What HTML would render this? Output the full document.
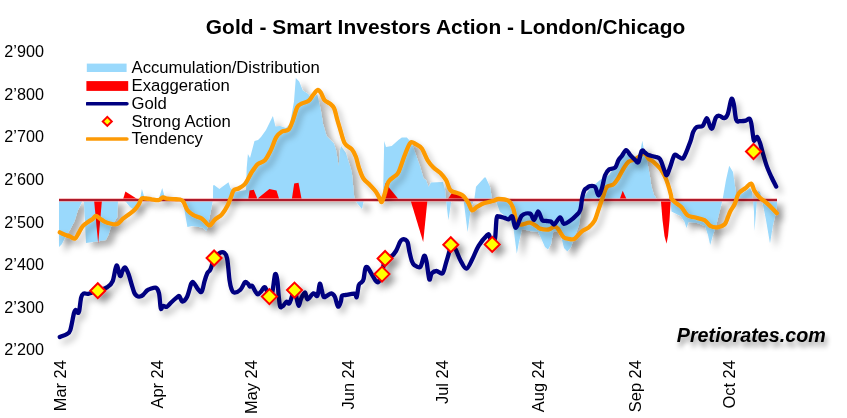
<!DOCTYPE html>
<html><head><meta charset="utf-8"><style>
html,body{margin:0;padding:0;background:#fff;}
svg{display:block;}
text{font-family:"Liberation Sans", sans-serif;}
</style></head><body>
<svg width="847" height="418" viewBox="0 0 847 418">
<defs>
<filter id="sh" x="-10%" y="-10%" width="130%" height="140%">
<feGaussianBlur in="SourceAlpha" stdDeviation="3.2"/>
<feOffset dx="5.5" dy="5" result="b"/>
<feFlood flood-color="#000" flood-opacity="0.32"/>
<feComposite in2="b" operator="in"/>
<feMerge><feMergeNode/><feMergeNode in="SourceGraphic"/></feMerge>
</filter>
<filter id="lsh" x="-10%" y="-10%" width="130%" height="140%">
<feGaussianBlur in="SourceAlpha" stdDeviation="3"/>
<feOffset dx="4" dy="4.5" result="b"/>
<feFlood flood-color="#000" flood-opacity="0.24"/>
<feComposite in2="b" operator="in"/>
<feMerge><feMergeNode/><feMergeNode in="SourceGraphic"/></feMerge>
</filter>
<filter id="tsh" x="-10%" y="-30%" width="130%" height="180%">
<feGaussianBlur in="SourceAlpha" stdDeviation="2.4"/>
<feOffset dx="1.5" dy="5" result="b"/>
<feFlood flood-color="#000" flood-opacity="0.4"/>
<feComposite in2="b" operator="in"/>
<feMerge><feMergeNode/><feMergeNode in="SourceGraphic"/></feMerge>
</filter>
<filter id="nf" x="0" y="0" width="100%" height="100%"><feOffset dx="0" dy="0"/></filter>
</defs>
<rect width="847" height="418" fill="#fff"/>
<g filter="url(#nf)">
<text x="205.8" y="33.6" font-size="20.9" font-weight="bold" fill="#000" textLength="479.5" lengthAdjust="spacing">Gold - Smart Investors Action - London/Chicago</text>
<g font-size="16.2" fill="#000"><text x="43.9" y="57.3" text-anchor="end">2’900</text><text x="43.9" y="99.9" text-anchor="end">2’800</text><text x="43.9" y="142.4" text-anchor="end">2’700</text><text x="43.9" y="185.0" text-anchor="end">2’600</text><text x="43.9" y="227.6" text-anchor="end">2’500</text><text x="43.9" y="270.1" text-anchor="end">2’400</text><text x="43.9" y="312.7" text-anchor="end">2’300</text><text x="43.9" y="355.3" text-anchor="end">2’200</text></g>
<g font-size="16.4" fill="#000"><text transform="translate(66.1,360.2) rotate(-90)" text-anchor="end">Mar 24</text><text transform="translate(163.0,360.2) rotate(-90)" text-anchor="end">Apr 24</text><text transform="translate(256.8,360.2) rotate(-90)" text-anchor="end">May 24</text><text transform="translate(353.7,360.2) rotate(-90)" text-anchor="end">Jun 24</text><text transform="translate(447.5,360.2) rotate(-90)" text-anchor="end">Jul 24</text><text transform="translate(544.4,360.2) rotate(-90)" text-anchor="end">Aug 24</text><text transform="translate(641.3,360.2) rotate(-90)" text-anchor="end">Sep 24</text><text transform="translate(735.1,360.2) rotate(-90)" text-anchor="end">Oct 24</text></g>
</g>
<g filter="url(#sh)"><polygon points="59.0,199.5 59.0,247.0 62.0,244.0 65.8,236.0 70.1,229.5 74.4,221.6 78.0,210.0 80.8,204.3 82.3,201.0 84.0,202.0 86.0,243.0 100.0,241.0 105.7,240.0 108.6,234.5 110.8,227.3 117.2,217.3 118.0,201.0 122.0,199.5 126.0,202.0 130.0,207.0 134.0,210.0 138.0,205.0 139.5,199.5 140.0,199.5 141.9,189.0 145.0,199.5 158.5,199.5 162.2,188.0 165.5,199.5 182.6,199.5 187.4,227.0 192.0,226.0 202.7,227.4 206.6,231.0 210.0,215.0 213.0,199.5 213.1,185.5 214.1,185.1 219.4,189.0 222.0,187.0 228.5,182.2 230.4,188.0 235.0,192.0 246.0,190.0 246.7,168.0 247.9,154.0 250.0,158.0 254.5,141.0 258.0,140.0 261.0,137.0 266.0,130.0 272.9,116.0 275.5,126.6 280.0,126.0 286.0,128.0 290.0,124.0 294.0,101.6 295.8,78.0 299.2,81.5 302.8,90.5 308.2,94.1 311.8,99.5 317.2,94.1 320.8,110.0 323.1,124.3 326.7,136.3 333.9,143.5 336.0,150.0 338.7,166.2 340.0,150.0 341.1,145.9 345.9,153.0 351.8,172.2 354.2,196.9 355.0,199.5 357.0,203.0 362.0,209.0 364.0,199.5 383.0,199.5 384.2,141.0 386.0,147.0 391.7,146.0 398.4,140.0 401.8,137.5 406.8,137.5 410.0,141.0 412.7,146.0 416.0,155.0 420.2,167.0 423.6,178.6 426.0,180.0 428.6,187.0 431.0,182.5 443.0,182.0 445.0,190.0 446.0,199.5 448.4,220.3 451.5,199.5 463.5,199.5 467.6,232.0 471.0,207.0 474.3,199.5 476.0,186.8 484.4,177.5 485.7,177.5 490.0,186.8 492.0,199.5 496.0,201.0 500.0,212.0 510.0,220.0 513.5,228.0 515.0,240.0 516.8,253.8 519.0,242.0 522.0,229.0 530.0,231.0 538.0,232.0 541.0,238.0 545.0,247.0 548.0,249.4 551.0,244.0 553.4,231.0 558.0,232.0 561.5,238.0 564.0,248.0 567.4,251.6 571.0,247.0 575.0,236.0 579.0,225.0 581.0,212.0 582.0,199.5 589.4,189.2 600.0,180.0 609.1,174.9 619.9,158.7 627.0,153.3 634.2,156.9 639.6,155.1 642.3,140.8 645.0,155.0 647.5,163.0 650.0,177.0 651.5,187.0 654.0,195.0 657.0,199.5 670.2,199.5 671.5,211.5 680.5,216.0 684.4,221.6 686.5,228.0 688.5,222.0 697.3,223.0 705.0,226.0 708.0,235.0 710.2,245.0 713.0,235.0 716.0,226.0 718.8,214.4 721.5,204.0 722.6,199.5 726.0,180.0 729.2,165.8 733.0,172.0 735.5,190.0 737.0,199.5 740.0,195.0 750.0,188.0 752.0,192.0 753.0,199.5 754.0,212.0 754.5,231.0 756.0,212.0 757.0,199.5 758.0,191.0 760.0,192.0 762.0,199.5 763.0,205.0 766.0,220.0 770.0,243.4 773.0,225.0 776.0,212.0 777.0,205.0 777.0,199.5" fill="#9AD9FC"/></g>
<g fill="#FF0000"><polygon points="94.0,199.5 98.2,243.6 102.0,199.5"/><polygon points="123.0,199.5 125.4,191.5 138.0,199.5"/><polygon points="248.2,199.5 249.6,190.5 253.8,189.8 256.7,196.9 257.4,199.5 258.8,197.6 269.4,189.1 276.5,190.5 279.3,199.5"/><polygon points="291.8,199.5 294.2,183.5 298.5,182.8 301.7,199.5"/><polygon points="383.0,199.5 385.3,183.1 398.8,199.5"/><polygon points="410.3,199.5 423.2,241.9 427.5,199.5"/><polygon points="447.6,199.5 451.9,193.1 463.4,196.0 466.2,199.5"/><polygon points="619.6,199.5 622.7,190.7 626.7,199.5"/><polygon points="660.8,199.5 662.5,220.0 664.5,236.0 666.5,243.8 668.0,236.0 669.5,220.0 670.8,199.5"/></g>
<line x1="59" y1="200" x2="777" y2="200" stroke="#F49A9A" stroke-width="3.6" opacity="0.8"/><line x1="59" y1="200" x2="777" y2="200" stroke="#AE1A2A" stroke-width="2.1"/>
<g filter="url(#lsh)"><path d="M59.8,232.3 C60.5,232.7 62.6,233.8 64.3,234.5 C66.0,235.2 68.3,235.9 70.1,236.6 C71.9,237.3 73.7,239.1 75.1,238.5 C76.5,237.9 77.4,235.1 78.7,233.0 C80.0,230.9 81.3,227.8 83.0,225.9 C84.7,224.0 87.0,222.8 88.7,221.6 C90.4,220.4 91.8,219.6 93.0,218.7 C94.2,217.8 94.7,216.0 95.9,216.0 C97.1,216.0 98.8,217.8 100.2,218.7 C101.6,219.6 102.9,220.8 104.5,221.6 C106.1,222.4 107.9,223.1 110.0,223.5 C112.1,223.9 115.0,224.8 117.2,224.0 C119.4,223.2 121.1,220.3 123.0,218.7 C124.9,217.1 126.8,215.8 128.7,214.4 C130.6,213.0 132.7,211.8 134.4,210.1 C136.1,208.4 137.5,206.3 138.7,204.4 C139.9,202.5 140.4,199.7 141.6,198.7 C142.8,197.7 144.2,198.4 145.9,198.5 C147.6,198.6 149.5,199.0 151.6,199.3 C153.7,199.6 156.7,200.4 158.6,200.1 C160.5,199.8 161.5,197.5 162.9,197.3 C164.3,197.1 165.3,198.4 167.2,198.7 C169.0,199.0 171.9,199.1 174.0,199.2 C176.1,199.3 178.4,199.1 180.0,199.5 C181.6,199.9 182.2,200.0 183.4,201.8 C184.7,203.6 185.8,208.0 187.5,210.2 C189.2,212.4 191.0,213.8 193.4,215.2 C195.8,216.6 199.6,217.2 201.8,218.6 C204.0,220.0 205.4,222.5 206.8,223.6 C208.2,224.7 208.8,226.0 210.2,225.3 C211.6,224.6 213.2,221.2 215.2,219.4 C217.1,217.6 219.8,216.8 221.9,214.4 C224.0,212.0 226.2,208.1 227.7,205.2 C229.2,202.3 230.1,199.3 231.1,196.8 C232.1,194.3 232.5,191.8 233.7,190.4 C234.9,189.0 236.7,189.5 238.5,188.5 C240.3,187.5 243.0,185.9 244.5,184.5 C246.0,183.1 246.4,181.9 247.5,180.0 C248.6,178.1 249.9,175.1 251.2,173.0 C252.4,170.9 253.9,169.0 255.0,167.5 C256.1,166.0 256.4,165.2 258.0,164.0 C259.6,162.8 262.8,162.4 264.9,160.2 C267.0,158.0 268.7,154.4 270.6,150.6 C272.5,146.8 274.4,140.4 276.3,137.2 C278.2,134.0 280.1,132.8 282.1,131.5 C284.2,130.2 286.8,131.5 288.6,129.6 C290.4,127.7 291.5,123.9 292.9,120.2 C294.3,116.5 295.8,110.0 297.2,107.3 C298.6,104.5 299.7,104.8 301.6,103.7 C303.5,102.6 306.8,102.2 308.7,100.8 C310.6,99.4 311.5,96.9 313.0,95.1 C314.5,93.3 316.3,90.4 317.6,90.0 C318.9,89.6 319.9,91.2 321.0,92.9 C322.1,94.6 323.0,98.3 324.5,100.1 C326.0,101.9 328.4,102.3 330.0,103.7 C331.6,105.1 332.9,105.7 334.1,108.2 C335.3,110.7 336.0,115.3 337.0,118.7 C338.0,122.1 338.6,124.2 339.9,128.3 C341.2,132.4 342.7,139.8 344.7,143.3 C346.7,146.8 349.8,147.0 351.7,149.2 C353.6,151.4 354.6,153.5 355.9,156.7 C357.1,159.9 357.9,164.8 359.2,168.4 C360.4,172.0 361.6,175.7 363.4,178.5 C365.2,181.3 368.0,183.0 370.1,185.2 C372.2,187.4 374.2,189.4 375.9,191.8 C377.6,194.2 379.1,197.7 380.1,199.4 C381.1,201.1 381.1,202.6 381.8,201.9 C382.5,201.2 383.2,198.5 384.3,195.2 C385.4,191.8 386.7,185.0 388.5,181.8 C390.3,178.6 393.3,177.7 395.0,176.0 C396.7,174.3 397.2,175.0 398.8,171.6 C400.4,168.2 402.6,160.6 404.5,155.8 C406.4,151.0 408.4,144.8 410.3,142.9 C412.2,141.0 414.1,143.4 416.0,144.3 C417.9,145.2 419.9,146.0 421.8,148.6 C423.7,151.2 425.6,157.0 427.5,160.1 C429.4,163.2 431.1,165.2 433.2,167.3 C435.3,169.5 438.2,170.8 440.4,173.0 C442.5,175.2 444.4,177.3 446.1,180.2 C447.8,183.1 448.5,188.0 450.4,190.2 C452.3,192.3 455.4,192.1 457.6,193.1 C459.8,194.1 461.6,194.3 463.4,196.0 C465.2,197.7 467.1,200.8 468.5,203.2 C469.9,205.6 470.6,209.7 472.0,210.3 C473.4,210.9 475.1,207.9 477.2,206.7 C479.3,205.5 481.6,204.1 484.4,203.1 C487.2,202.1 491.5,201.4 493.9,200.7 C496.3,200.0 496.3,198.8 498.7,198.8 C501.1,198.8 505.9,199.2 508.3,200.7 C510.7,202.2 511.7,204.3 513.1,207.9 C514.5,211.5 515.3,219.4 516.7,222.2 C518.1,225.0 519.2,224.5 521.4,224.6 C523.6,224.7 527.2,222.4 529.8,222.7 C532.4,223.0 535.3,225.5 537.0,226.5 C538.7,227.5 538.1,228.2 540.0,228.7 C541.9,229.2 546.2,229.8 548.6,229.5 C551.0,229.2 552.8,226.7 554.3,226.6 C555.8,226.5 556.3,226.9 557.9,228.7 C559.5,230.5 561.9,235.6 563.7,237.3 C565.5,239.0 566.9,238.6 568.7,238.8 C570.5,239.1 572.2,240.0 574.4,238.8 C576.5,237.6 579.2,233.5 581.6,231.6 C584.0,229.7 586.6,229.1 588.8,227.3 C590.9,225.5 592.8,223.9 594.5,220.8 C596.2,217.7 597.3,212.9 598.8,208.7 C600.3,204.4 602.2,198.9 603.5,195.3 C604.8,191.7 605.1,188.7 606.8,186.9 C608.5,185.1 611.5,185.9 613.5,184.4 C615.5,182.9 616.8,180.3 618.5,177.7 C620.2,175.0 621.9,171.2 623.6,168.5 C625.3,165.8 626.7,163.3 628.6,161.8 C630.5,160.3 633.4,160.3 635.3,159.3 C637.2,158.3 638.5,157.0 640.0,155.9 C641.5,154.8 642.8,152.2 644.2,152.6 C645.6,153.0 646.9,157.0 648.4,158.5 C649.9,160.0 651.4,160.1 653.4,161.8 C655.4,163.5 658.3,166.3 660.1,168.5 C661.9,170.7 663.0,172.7 664.3,175.2 C665.6,177.7 666.6,180.2 667.7,183.6 C668.8,186.9 670.4,192.8 671.0,195.3 C671.6,197.8 670.7,197.3 671.5,198.6 C672.3,199.9 674.1,201.5 675.8,202.9 C677.5,204.3 679.6,205.2 681.5,207.2 C683.4,209.2 685.1,213.4 687.3,215.1 C689.4,216.8 691.5,216.5 694.4,217.3 C697.3,218.1 701.9,218.7 704.5,220.1 C707.1,221.5 708.1,224.7 710.2,225.9 C712.4,227.1 715.0,227.6 717.4,227.3 C719.8,227.1 722.8,226.1 724.6,224.4 C726.4,222.7 727.0,219.2 728.0,217.0 C729.0,214.8 729.4,213.2 730.5,211.0 C731.6,208.8 733.3,206.9 734.7,204.0 C736.1,201.1 736.9,196.0 738.7,193.4 C740.5,190.8 743.2,189.8 745.3,188.2 C747.4,186.6 749.6,183.3 751.1,183.7 C752.6,184.1 753.1,188.5 754.5,190.8 C755.9,193.1 757.5,195.2 759.7,197.4 C761.9,199.6 764.8,201.3 767.6,203.9 C770.5,206.5 775.3,211.6 776.8,213.2" fill="none" stroke="#FD9A06" stroke-width="4.3" stroke-linejoin="round" stroke-linecap="round"/></g>
<g filter="url(#lsh)"><path d="M59.8,337.0 C60.9,336.5 65.0,335.3 66.7,334.2 C68.5,333.1 69.1,333.6 70.3,330.1 C71.5,326.6 73.0,316.8 73.9,313.4 C74.8,310.0 75.2,309.9 75.8,309.8 C76.4,309.7 76.9,312.5 77.5,312.7 C78.1,312.9 78.6,313.5 79.2,311.0 C79.8,308.5 80.4,300.7 81.1,297.8 C81.8,294.9 82.3,294.2 83.5,293.5 C84.7,292.8 85.9,294.3 88.3,293.8 C90.7,293.3 94.6,291.8 97.8,290.7 C101.0,289.6 104.9,288.7 107.4,287.1 C109.9,285.5 111.2,284.7 112.7,281.1 C114.2,277.5 115.3,266.4 116.5,265.5 C117.7,264.6 119.1,275.1 120.1,276.0 C121.1,276.9 121.7,272.4 122.5,271.0 C123.3,269.6 124.1,267.0 125.1,267.5 C126.1,268.0 127.4,271.2 128.5,274.0 C129.6,276.8 130.5,280.8 131.5,284.0 C132.5,287.2 133.5,291.0 134.4,293.0 C135.3,295.0 136.1,295.4 137.0,296.0 C137.9,296.6 139.0,296.7 140.0,296.5 C141.0,296.3 141.8,296.0 143.0,295.0 C144.2,294.0 145.8,291.5 147.0,290.5 C148.2,289.5 148.5,289.4 150.0,289.0 C151.5,288.6 154.5,287.1 156.0,287.8 C157.5,288.5 158.3,290.5 159.0,293.2 C159.7,295.9 159.9,301.3 160.2,303.9 C160.5,306.5 160.5,308.6 161.0,309.0 C161.5,309.4 162.2,306.4 163.2,306.0 C164.1,305.6 165.4,307.4 166.7,306.9 C168.0,306.3 169.3,304.2 170.9,302.7 C172.5,301.2 174.9,299.0 176.3,297.9 C177.7,296.8 178.3,295.5 179.3,296.1 C180.3,296.7 181.0,301.4 182.3,301.5 C183.6,301.6 185.6,299.7 187.1,296.7 C188.6,293.7 190.2,285.8 191.3,283.5 C192.4,281.2 192.6,281.9 193.7,282.8 C194.8,283.7 196.5,287.5 197.8,289.0 C199.1,290.5 200.6,293.0 201.7,291.7 C202.8,290.4 203.6,284.5 204.5,281.4 C205.4,278.3 206.5,274.9 207.4,273.0 C208.3,271.1 209.3,271.4 210.0,270.2 C210.7,269.0 211.0,267.9 211.7,265.9 C212.4,263.9 212.7,260.2 214.1,258.0 C215.5,255.8 218.4,253.5 220.1,252.7 C221.8,251.9 223.3,252.1 224.5,253.0 C225.7,253.9 226.4,255.5 227.0,258.0 C227.6,260.5 227.9,264.3 228.3,268.0 C228.7,271.7 229.0,276.5 229.5,280.0 C230.0,283.5 230.7,286.9 231.5,289.0 C232.3,291.1 232.9,292.5 234.4,292.6 C235.9,292.7 238.6,291.5 240.4,289.8 C242.2,288.1 243.8,283.2 245.0,282.2 C246.2,281.2 247.1,283.0 247.9,283.7 C248.7,284.4 249.3,286.2 250.0,286.6 C250.7,287.0 251.4,285.1 252.2,285.8 C253.0,286.5 254.1,289.5 255.0,290.9 C255.9,292.3 256.8,294.4 257.9,294.4 C259.0,294.4 260.3,292.1 261.5,290.9 C262.7,289.7 263.8,286.4 265.1,287.3 C266.4,288.2 268.2,295.8 269.4,296.6 C270.6,297.4 271.4,296.0 272.3,292.3 C273.2,288.6 274.3,276.4 275.1,274.4 C275.9,272.4 276.7,276.5 277.3,280.1 C277.9,283.7 278.2,291.5 278.7,295.9 C279.2,300.3 279.5,304.9 280.2,306.6 C280.9,308.3 281.9,306.7 283.0,305.9 C284.1,305.1 285.5,302.1 286.6,301.6 C287.7,301.1 288.2,305.0 289.5,303.1 C290.8,301.2 293.3,290.8 294.5,290.1 C295.7,289.4 296.0,296.2 296.7,298.8 C297.4,301.4 298.1,305.9 298.8,305.9 C299.5,305.9 300.0,301.1 301.0,298.8 C302.0,296.5 303.9,292.2 305.0,292.3 C306.1,292.4 306.0,299.1 307.4,299.3 C308.8,299.5 311.7,294.0 313.4,293.4 C315.1,292.8 316.3,297.3 317.4,295.7 C318.5,294.1 319.1,284.8 319.8,283.8 C320.5,282.8 321.1,287.6 321.7,289.8 C322.3,292.0 322.7,295.9 323.6,296.9 C324.5,297.9 325.7,296.3 327.0,295.7 C328.3,295.1 330.0,293.2 331.3,293.4 C332.6,293.6 333.8,294.7 334.9,296.9 C336.0,299.1 337.0,305.7 338.0,306.5 C339.0,307.3 340.1,303.5 340.8,301.7 C341.5,299.9 341.2,296.8 342.0,295.7 C342.8,294.6 343.5,295.3 345.6,295.0 C347.7,294.7 352.6,293.4 354.5,293.7 C356.4,294.0 356.0,298.4 356.7,297.0 C357.4,295.6 358.0,287.6 358.8,285.1 C359.6,282.6 360.9,283.2 361.7,282.2 C362.5,281.2 363.0,281.3 363.6,279.0 C364.2,276.7 364.7,270.6 365.3,268.6 C365.9,266.6 366.5,266.5 367.4,267.2 C368.3,267.9 369.4,270.4 370.8,272.6 C372.2,274.8 374.2,279.0 375.5,280.5 C376.8,282.0 377.5,282.8 378.6,281.7 C379.7,280.6 380.9,278.0 382.0,274.1 C383.1,270.2 383.6,261.4 385.1,258.5 C386.6,255.6 389.3,257.9 391.1,256.6 C392.9,255.4 394.5,253.4 396.0,251.0 C397.5,248.6 399.0,243.9 400.0,242.0 C401.0,240.1 401.1,240.0 402.0,239.6 C402.9,239.2 404.2,239.1 405.2,239.6 C406.1,240.1 407.0,240.4 407.7,242.5 C408.4,244.6 408.8,248.9 409.5,252.0 C410.2,255.1 411.0,258.8 411.8,261.0 C412.6,263.2 413.0,264.2 414.4,265.2 C415.8,266.2 418.7,268.4 420.3,266.9 C421.9,265.3 423.1,256.8 424.1,255.9 C425.1,255.0 425.6,257.5 426.5,261.4 C427.4,265.3 428.4,277.3 429.3,279.3 C430.2,281.3 430.5,274.8 431.7,273.4 C432.9,272.0 434.7,271.0 436.5,271.0 C438.3,271.0 440.9,274.8 442.5,273.4 C444.1,272.0 444.9,266.4 446.1,262.6 C447.3,258.8 448.8,253.6 449.6,250.6 C450.4,247.6 449.8,244.9 450.8,244.7 C451.8,244.5 454.0,246.8 455.6,249.4 C457.2,252.0 458.6,257.0 460.4,260.2 C462.2,263.4 464.4,268.8 466.4,268.6 C468.4,268.4 470.4,262.8 472.4,259.0 C474.4,255.2 476.1,249.9 478.6,245.9 C481.1,241.9 485.4,236.8 487.2,235.1 C489.0,233.4 488.6,234.2 489.4,235.8 C490.2,237.4 491.2,244.0 492.2,244.4 C493.1,244.8 494.4,242.3 495.1,238.0 C495.8,233.7 496.0,222.2 496.6,218.6 C497.2,215.0 497.4,216.6 498.7,216.5 C500.0,216.4 502.7,217.4 504.4,217.9 C506.1,218.4 507.5,219.5 508.8,219.3 C510.1,219.1 511.1,215.1 512.3,216.5 C513.5,217.9 514.3,228.0 515.9,227.9 C517.5,227.8 519.4,218.1 521.7,215.7 C524.1,213.3 527.9,212.9 530.0,213.6 C532.1,214.3 532.8,220.2 534.1,219.9 C535.5,219.6 536.8,211.5 538.1,211.5 C539.5,211.5 540.9,218.5 542.2,220.1 C543.5,221.7 544.6,220.6 546.0,220.8 C547.4,221.1 549.4,221.0 550.8,221.6 C552.2,222.2 552.8,225.1 554.3,224.4 C555.8,223.7 558.5,217.4 560.1,217.3 C561.7,217.2 562.0,223.1 563.7,223.7 C565.4,224.3 568.1,222.1 570.1,220.8 C572.1,219.5 574.2,217.6 575.9,215.8 C577.6,214.0 579.1,213.2 580.2,210.1 C581.3,207.0 581.6,200.5 582.3,197.2 C583.0,193.8 583.7,191.5 584.5,190.0 C585.3,188.5 586.1,188.7 587.0,188.0 C587.9,187.3 588.6,186.3 590.0,186.1 C591.4,185.9 593.7,185.4 595.1,186.9 C596.5,188.4 597.3,195.0 598.4,195.3 C599.5,195.6 600.7,191.9 601.8,188.6 C602.9,185.2 603.9,178.4 605.1,175.2 C606.4,172.0 607.6,170.6 609.3,169.3 C611.0,168.0 613.7,169.1 615.2,167.6 C616.7,166.1 617.4,162.0 618.5,160.1 C619.6,158.2 620.6,157.6 621.9,155.9 C623.2,154.2 624.7,150.2 626.1,150.1 C627.5,150.0 628.8,153.4 630.3,155.1 C631.8,156.8 633.9,158.9 635.3,160.1 C636.6,161.2 637.3,163.5 638.4,162.0 C639.5,160.5 640.6,152.5 641.7,150.9 C642.8,149.3 643.9,151.9 645.0,152.6 C646.1,153.3 646.7,154.4 648.4,155.1 C650.1,155.8 653.1,156.1 655.1,156.8 C657.1,157.5 658.6,157.1 660.1,159.3 C661.6,161.5 663.2,167.5 664.3,170.2 C665.4,172.8 665.8,175.8 666.8,175.2 C667.8,174.6 668.9,170.2 670.2,166.9 C671.5,163.6 673.0,156.8 674.4,155.1 C675.8,153.4 677.1,156.4 678.6,156.8 C680.1,157.2 681.7,160.1 683.6,157.6 C685.5,155.1 688.7,146.0 690.3,141.7 C691.9,137.4 692.1,134.2 693.2,131.8 C694.3,129.4 695.1,128.1 696.7,127.1 C698.3,126.1 701.0,127.4 702.7,125.9 C704.4,124.4 705.6,118.2 706.8,118.2 C708.0,118.2 709.0,124.2 709.9,125.9 C710.8,127.6 711.3,129.7 712.3,128.3 C713.3,126.9 714.7,119.6 715.9,117.5 C717.1,115.4 718.1,115.7 719.5,115.8 C720.9,115.9 722.8,118.5 724.2,118.2 C725.6,117.9 726.6,117.1 727.8,113.9 C729.0,110.7 730.4,100.7 731.4,99.1 C732.4,97.5 733.0,100.8 733.8,104.3 C734.6,107.8 735.2,117.1 736.2,119.9 C737.2,122.7 738.2,121.0 739.8,121.1 C741.4,121.2 744.2,121.0 745.8,120.6 C747.4,120.2 748.5,118.1 749.4,118.6 C750.3,119.1 750.7,120.4 751.3,123.4 C751.9,126.4 752.7,133.9 753.2,136.8 C753.7,139.7 753.6,141.0 754.2,141.0 C754.8,141.0 756.0,136.5 757.0,136.8 C758.0,137.1 758.9,139.9 759.9,142.6 C760.9,145.3 761.7,149.3 762.8,153.1 C763.9,156.9 765.2,161.6 766.6,165.6 C768.0,169.6 769.8,173.5 771.4,177.0 C773.0,180.5 775.4,185.0 776.2,186.6" fill="none" stroke="#000080" stroke-width="4.3" stroke-linejoin="round" stroke-linecap="round"/></g>
<g filter="url(#sh)"><polygon points="97.8,283.2 105.3,290.7 97.8,298.2 90.3,290.7" fill="#FFFF00" stroke="#FF0000" stroke-width="2" stroke-linejoin="miter"/><polygon points="214.1,250.5 221.6,258 214.1,265.5 206.6,258" fill="#FFFF00" stroke="#FF0000" stroke-width="2" stroke-linejoin="miter"/><polygon points="269.4,289.1 276.9,296.6 269.4,304.1 261.9,296.6" fill="#FFFF00" stroke="#FF0000" stroke-width="2" stroke-linejoin="miter"/><polygon points="294.5,282.6 302.0,290.1 294.5,297.6 287.0,290.1" fill="#FFFF00" stroke="#FF0000" stroke-width="2" stroke-linejoin="miter"/><polygon points="382,266.6 389.5,274.1 382,281.6 374.5,274.1" fill="#FFFF00" stroke="#FF0000" stroke-width="2" stroke-linejoin="miter"/><polygon points="385.1,251.0 392.6,258.5 385.1,266.0 377.6,258.5" fill="#FFFF00" stroke="#FF0000" stroke-width="2" stroke-linejoin="miter"/><polygon points="450.8,237.2 458.3,244.7 450.8,252.2 443.3,244.7" fill="#FFFF00" stroke="#FF0000" stroke-width="2" stroke-linejoin="miter"/><polygon points="492.2,236.9 499.7,244.4 492.2,251.9 484.7,244.4" fill="#FFFF00" stroke="#FF0000" stroke-width="2" stroke-linejoin="miter"/><polygon points="753.5,144.0 761.0,151.5 753.5,159.0 746.0,151.5" fill="#FFFF00" stroke="#FF0000" stroke-width="2" stroke-linejoin="miter"/></g>
<g font-size="16.7" fill="#000" filter="url(#nf)">
<rect x="86.8" y="63.6" width="39.8" height="8.4" fill="#9AD9FC"/>
<text x="131.5" y="73.2">Accumulation/Distribution</text>
<rect x="86.4" y="81.1" width="41.8" height="9.8" fill="#FF0000"/>
<text x="131.5" y="91.3">Exaggeration</text>
<line x1="87.2" y1="103.8" x2="126.9" y2="103.8" stroke="#000080" stroke-width="3.6" stroke-linecap="round"/>
<text x="131.5" y="109">Gold</text>
<polygon points="107.3,116.9 111.8,121.4 107.3,125.9 102.8,121.4" fill="#FFFF00" stroke="#FF0000" stroke-width="2"/>
<text x="131.5" y="126.6">Strong Action</text>
<line x1="87.2" y1="139" x2="126.9" y2="139" stroke="#FD9A06" stroke-width="3.6" stroke-linecap="round"/>
<text x="131.5" y="143.9">Tendency</text>
</g>
<g filter="url(#tsh)"><text x="676.8" y="341.6" font-size="20.8" font-weight="bold" font-style="italic" fill="#000" textLength="149" lengthAdjust="spacingAndGlyphs">Pretiorates.com</text></g>
</svg>
</body></html>
